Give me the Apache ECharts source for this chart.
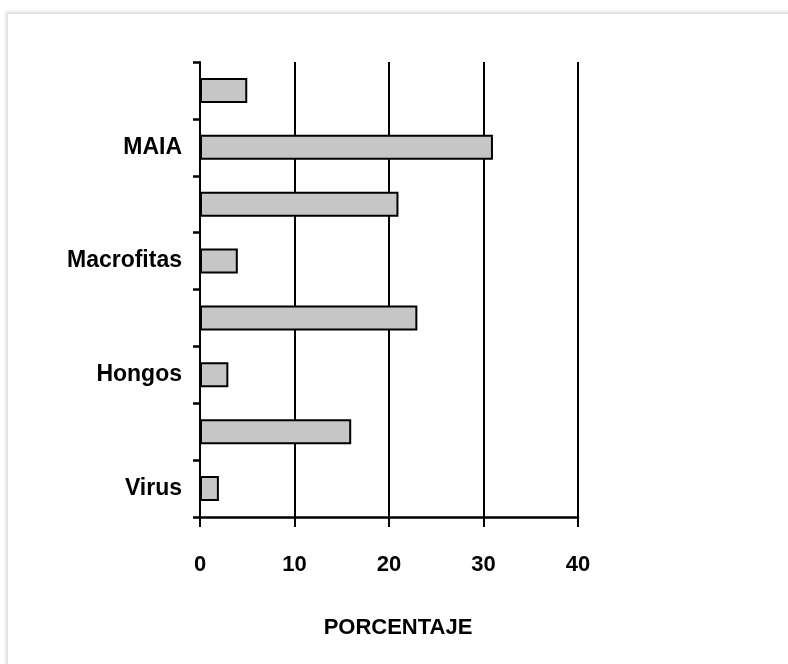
<!DOCTYPE html>
<html>
<head>
<meta charset="utf-8">
<script src="https://cdn.jsdelivr.net/npm/echarts@6/dist/echarts.min.js"></script>
<style>
html,body{margin:0;padding:0;background:#fff;}
#frame{position:absolute;left:6px;top:12px;width:800px;height:700px;border-top:2px solid #e4e4e4;border-left:2px solid #e4e4e4;box-shadow:-1px -1px 3px rgba(0,0,0,0.08);}
#chart{position:absolute;left:0;top:0;width:788px;height:664px;}
</style>
</head>
<body>
<div id="frame"></div>
<div id="chart"></div>
<script>
const categories = ['Virus', '', 'Hongos', '', 'Macrofitas', '', 'MAIA', ''];
const values = [2, 16, 3, 23, 4, 21, 31, 5];
const xTicks = [0, 10, 20, 30, 40];
const axisName = 'PORCENTAJE';

const FONT = "'Liberation Sans', Arial, sans-serif";
const chart = echarts.init(document.getElementById('chart'), null, {renderer: 'canvas'});
chart.setOption({
  backgroundColor: 'transparent',
  animation: false,
  grid: {left: 200, right: 210, top: 62, bottom: 147, containLabel: false},
  xAxis: {
    type: 'value',
    min: xTicks[0],
    max: xTicks[xTicks.length - 1],
    interval: 10,
    name: axisName,
    nameLocation: 'middle',
    nameGap: 100,
    nameTextStyle: {fontFamily: FONT, fontWeight: 'bold', fontSize: 22, color: '#000', padding: [0, 0, 0, 18]},
    axisLine: {show: true, lineStyle: {color: '#000', width: 2.5}},
    axisTick: {show: true, length: 10, lineStyle: {color: '#000', width: 2}},
    axisLabel: {margin: 37, fontFamily: FONT, fontWeight: 'bold', fontSize: 22, color: '#000'},
    splitLine: {show: true, lineStyle: {color: '#000', width: 2}}
  },
  yAxis: {
    type: 'category',
    data: categories,
    axisLine: {show: true, lineStyle: {color: '#000', width: 2}},
    axisTick: {show: true, length: 7, lineStyle: {color: '#000', width: 2.5}},
    axisLabel: {interval: 0, margin: 18, fontFamily: FONT, fontWeight: 'bold', fontSize: 23, color: '#000'},
    splitLine: {show: false}
  },
  series: [{
    type: 'bar',
    data: values,
    barWidth: 25,
    itemStyle: {color: '#c6c6c6', borderColor: '#000', borderWidth: 2}
  }]
});
</script>
</body>
</html>
